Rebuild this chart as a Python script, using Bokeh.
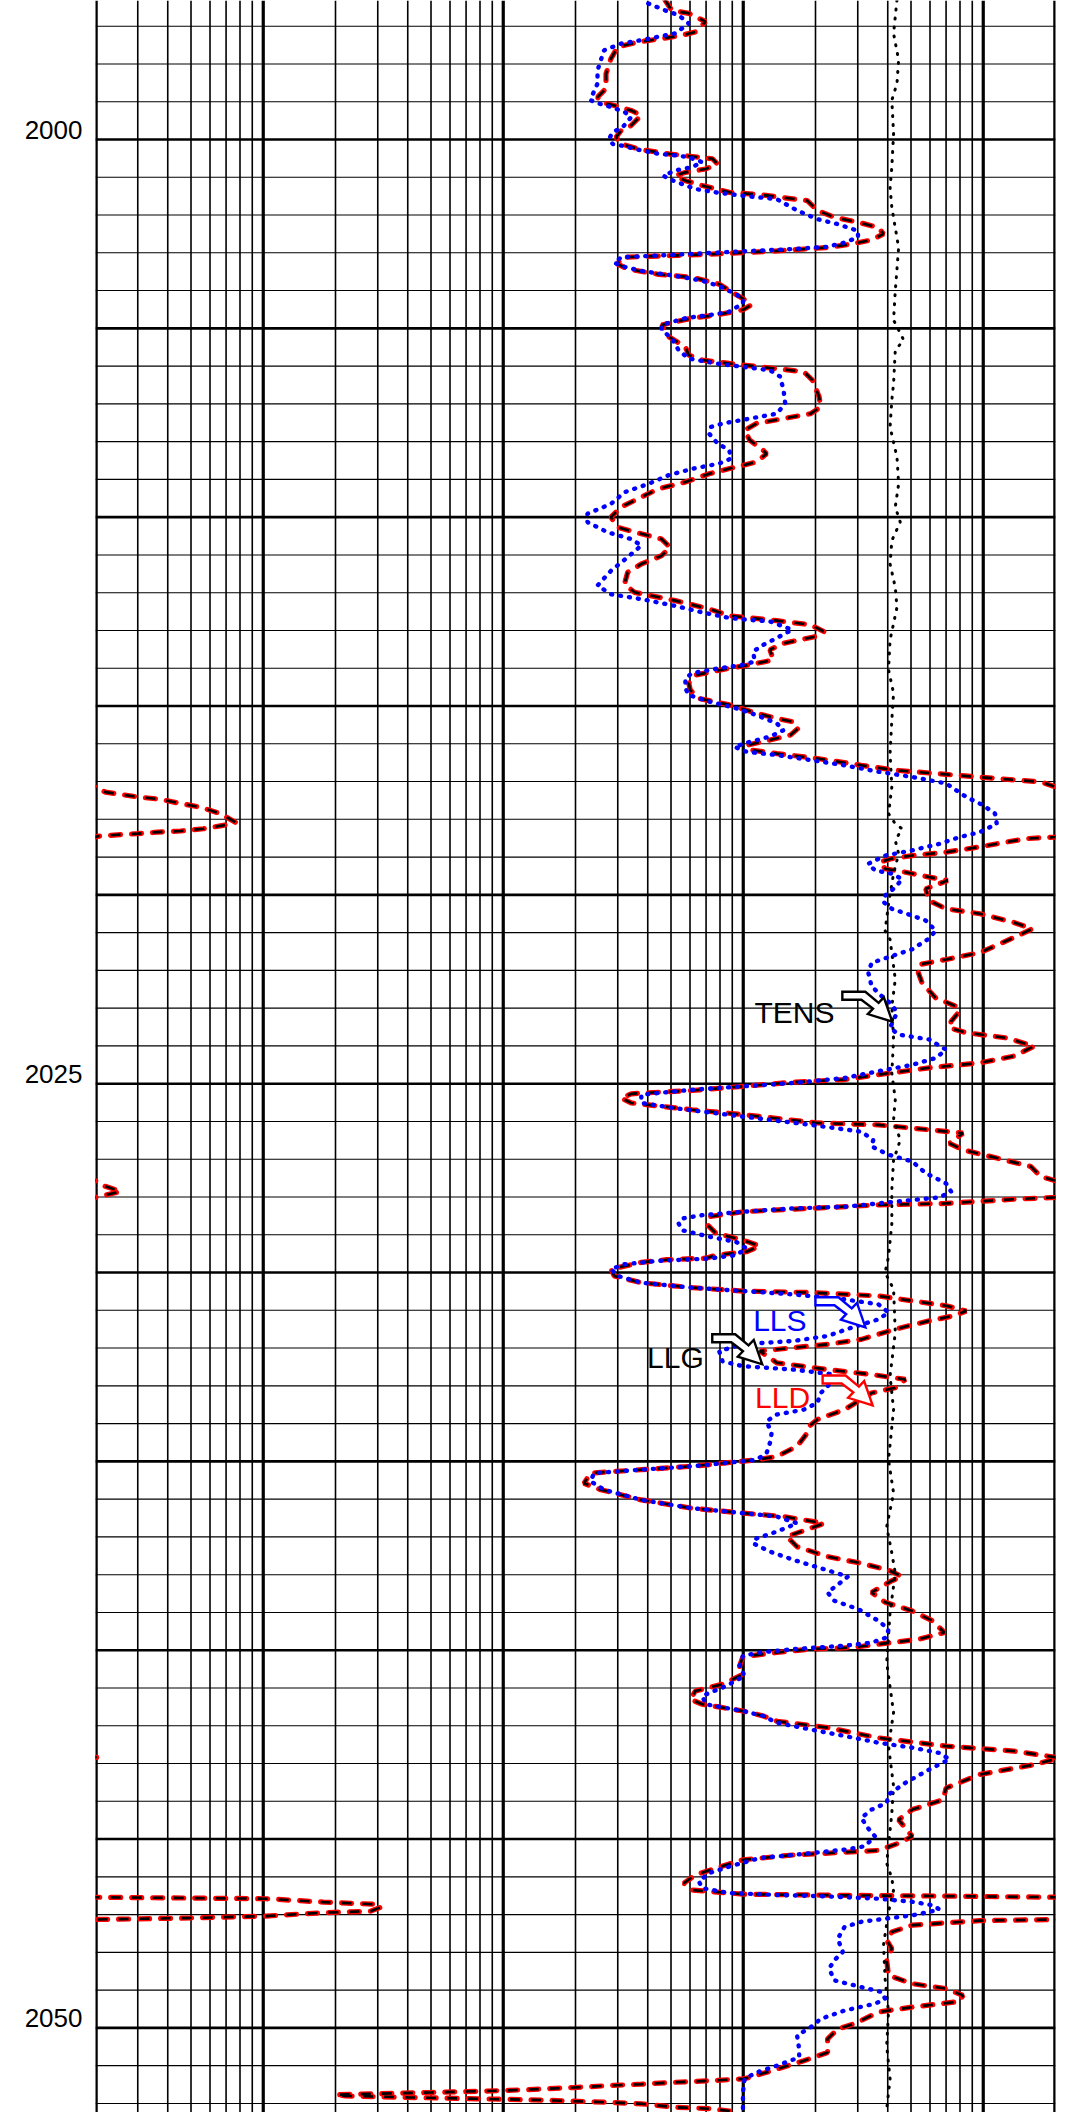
import numpy as np
from bokeh.plotting import figure
from bokeh.models import Range1d, Span, LinearAxis, FixedTicker
from bokeh.core.properties import value
from bokeh.embed import file_html
from bokeh.resources import INLINE

# LLD / LLG (deep laterolog, ohm.m). Values above 2000 are shown on the wrap (backup) scale.
lld_depth = [1996.31, 1996.58, 1996.66, 1996.88, 1997.15, 1997.24, 1997.33, 1997.42, 1997.55, 1997.86,
             1998.26, 1998.65, 1998.88, 1999.01, 1999.10, 1999.23, 1999.36, 1999.63, 1999.76, 1999.94,
             2000.12, 2000.27, 2000.38, 2000.45, 2000.51, 2000.65, 2000.78, 2000.87, 2000.96, 2001.09,
             2001.22, 2001.40, 2001.46, 2001.62, 2001.88, 2002.06, 2002.19, 2002.33, 2002.50, 2002.66,
             2002.77, 2002.86, 2002.95, 2003.04, 2003.12, 2003.30, 2003.43, 2003.57, 2003.65, 2003.83,
             2004.05, 2004.27, 2004.38, 2004.51, 2004.65, 2004.73, 2004.91, 2005.22, 2005.49, 2005.71,
             2005.84, 2005.93, 2006.02, 2006.15, 2006.37, 2006.81, 2007.08, 2007.26, 2007.39, 2007.52,
             2007.70, 2007.96, 2008.23, 2008.32, 2008.54, 2008.67, 2008.85, 2009.07, 2009.25, 2009.47,
             2009.73, 2010.00, 2010.27, 2010.44, 2010.58, 2010.80, 2011.02, 2011.24, 2011.46, 2011.77,
             2011.99, 2012.21, 2012.43, 2012.61, 2012.74, 2012.85, 2013.03, 2013.16, 2013.34, 2013.51,
             2013.78, 2013.91, 2014.00, 2014.18, 2014.40, 2014.58, 2014.80, 2014.97, 2015.19, 2015.33,
             2015.42, 2015.59, 2015.77, 2015.90, 2016.04, 2016.17, 2016.26, 2016.39, 2016.57, 2016.70,
             2016.81, 2016.92, 2017.01, 2017.14, 2017.28, 2017.32, 2017.41, 2017.47, 2017.57, 2017.68,
             2017.85, 2018.08, 2018.16, 2018.25, 2018.31, 2018.34, 2018.38, 2018.41, 2018.45, 2018.47,
             2018.51, 2018.60, 2018.73, 2018.87, 2018.96, 2019.04, 2019.13, 2019.31, 2019.40, 2019.53,
             2019.62, 2019.84, 2020.15, 2020.37, 2020.50, 2020.73, 2020.90, 2021.15, 2021.53, 2021.71,
             2021.84, 2021.97, 2022.33, 2022.73, 2022.95, 2023.08, 2023.35, 2023.52, 2023.65, 2023.79,
             2024.01, 2024.27, 2024.45, 2024.58, 2024.76, 2024.89, 2024.96, 2025.07, 2025.18, 2025.25,
             2025.27, 2025.38, 2025.51, 2025.56, 2025.69, 2025.82, 2026.04, 2026.09, 2026.22, 2026.31,
             2026.58, 2026.75, 2026.97, 2027.19, 2027.46, 2027.57, 2027.70, 2027.85, 2027.95, 2028.01,
             2028.06, 2028.17, 2028.21, 2028.30, 2028.39, 2028.52, 2028.74, 2028.96, 2029.14, 2029.30,
             2029.45, 2029.54, 2029.62, 2029.66, 2029.73, 2029.91, 2030.09, 2030.27, 2030.40, 2030.49,
             2030.53, 2030.62, 2030.75, 2030.88, 2031.02, 2031.15, 2031.28, 2031.50, 2031.77, 2031.90,
             2031.99, 2032.08, 2032.39, 2032.57, 2032.70, 2032.83, 2033.05, 2033.19, 2033.63, 2033.89,
             2034.07, 2034.25, 2034.60, 2034.87, 2034.96, 2035.04, 2035.13, 2035.22, 2035.31, 2035.58,
             2035.75, 2036.02, 2036.24, 2036.37, 2036.46, 2036.64, 2036.77, 2036.99, 2037.26, 2037.52,
             2037.70, 2037.88, 2038.05, 2038.16, 2038.47, 2038.73, 2038.96, 2039.22, 2039.53, 2039.71,
             2039.84, 2039.93, 2039.97, 2040.06, 2040.17, 2040.42, 2040.64, 2040.90, 2041.08, 2041.30,
             2041.43, 2041.61, 2041.74, 2041.88, 2042.05, 2042.32, 2042.54, 2042.67, 2042.85, 2043.03,
             2043.29, 2043.65, 2043.96, 2044.22, 2044.49, 2044.93, 2045.11, 2045.30, 2045.35, 2045.42,
             2045.55, 2045.77, 2045.95, 2046.17, 2046.35, 2046.46, 2046.49, 2046.51, 2046.54, 2046.58,
             2046.67, 2046.73, 2046.80, 2046.91, 2046.95, 2047.04, 2047.09, 2047.13, 2047.16, 2047.28,
             2047.46, 2047.68, 2047.90, 2048.21, 2048.61, 2048.83, 2048.96, 2049.14, 2049.30, 2049.45,
             2049.58, 2049.89, 2050.03, 2050.29, 2050.65, 2050.87, 2051.09, 2051.31, 2051.35, 2051.40,
             2051.44, 2051.49, 2051.53, 2051.58, 2051.62, 2051.66, 2051.71, 2051.77, 2051.80, 2051.84,
             2051.89, 2051.91, 2051.94, 2051.97, 2052.01, 2052.10, 2052.14, 2052.20, 2052.30]
lld_value = [47.2, 50.4, 59.3, 69.7, 63.2, 55.6, 45.7, 36.4, 30.0, 28.1,
             26.8, 26.8, 24.7, 25.5, 29.0, 34.1, 37.6, 34.1, 31.0, 29.5,
             31.0, 37.6, 48.8, 61.2, 74.4, 78.2, 69.7, 57.4, 52.1, 57.4,
             67.5, 87.5, 117.3, 184.8, 203.7, 239.5, 300.7, 365.6, 383.9, 342.6,
             282, 224.6, 138, 72.1, 31.0, 30.0, 33.0, 44.3, 61.2, 79.4,
             90.4, 103, 108.1, 99.7, 76.9, 61.2, 45.7, 48.8, 57.4, 59.3,
             67.5, 87.5, 117.3, 178.8, 194.1, 207, 210.4, 190.9, 147.2, 113.5,
             101.3, 106.4, 121.1, 125.1, 113.5, 93.4, 72.1, 57.4, 44.3, 37.6,
             31.0, 28.1, 30.0, 37.6, 45.7, 49.6, 45.7, 37.6, 33.0, 32.0,
             35.2, 52.1, 72.1, 87.5, 138, 190.9, 217, 200, 147.2, 129.2,
             133.5, 106.4, 87.5, 63.2, 59.3, 60.2, 65.3, 87.5, 113.5, 138,
             162.3, 169.4, 157.2, 129.2, 103, 108.9, 138, 203.7, 310.5, 430,
             700, 1138, 1738, 2000, 2200, 2420, 3020, 3730, 4430, 5480,
             6640, 7660, 6810, 5630, 4520, 3620, 2980, 2470, 2040, 2000,
             1525, 1256, 968, 700, 506, 416, 371, 390, 474, 595,
             711, 576, 595, 700, 968, 1340, 1600, 1320, 968, 700,
             548, 530, 556, 634, 770, 797, 735, 723, 850, 1256,
             1628, 1340, 968, 595, 365.6, 264, 162, 100, 61.2, 37.6,
             34.1, 31, 34.1, 40.2, 61.2, 100, 203.7, 365.6, 595, 823,
             723, 823, 1138, 1575, 1738, 2000, 2150, 2550, 2200, 2000,
             1340, 700, 365.6, 190.9, 100, 72.1, 71, 76.9, 99.7, 117.3,
             103, 76.9, 70, 48, 37.6, 28.1, 29, 37.6, 61.2, 99.7,
             190.9, 365.6, 506, 700, 850, 747, 595, 430, 310.5, 224.6,
             162.3, 117.3, 138, 224.6, 342.6, 474, 430, 342.6, 264, 203.7,
             188, 184.8, 167.6, 138, 113.5, 84.7, 61.2, 37.6, 23.1, 21.7,
             25.5, 37.6, 61.2, 99.7, 147.2, 217, 190.9, 152, 167.6, 224.6,
             310.5, 403, 459, 416, 342.6, 390, 506, 614, 688, 540,
             365.6, 282, 190.9, 138, 99.7, 96.5, 99.7, 82, 63.2, 60.2,
             67.5, 99.7, 121, 138, 224.6, 365.6, 700, 1340, 2080, 1628,
             968, 700, 680, 506, 444, 506, 444, 365.6, 264, 162.3,
             99.7, 76.9, 63.2, 56.5, 61.2, 99.7, 264, 700, 2000, 10300,
             17800, 29900, 31000, 28000, 17800, 10200, 5000, 2000, 968, 506,
             416, 396, 416, 396, 403, 506, 700, 823, 797, 506,
             365.6, 291, 247.6, 224.6, 224.6, 178.8, 138, 106.4, 99.7, 72.1,
             52.1, 37.6, 27.2, 19.7, 14.3, 10, 5, 2.0, 2.2, 4,
             10, 14.3, 19.7, 27.2, 37.6, 52.1, 72.1, 87.5, 95]

# LLS (shallow laterolog, ohm.m)
lls_depth = [1996.40, 1996.58, 1996.71, 1996.93, 1997.19, 1997.28, 1997.37, 1997.46, 1997.64, 1997.90,
             1998.17, 1998.52, 1998.83, 1998.96, 1999.05, 1999.14, 1999.27, 1999.41, 1999.67, 1999.81,
             1999.98, 2000.12, 2000.16, 2000.29, 2000.38, 2000.42, 2000.47, 2000.60, 2000.73, 2000.82,
             2000.96, 2001.04, 2001.18, 2001.31, 2001.40, 2001.49, 2001.58, 2001.88, 2002.11, 2002.24,
             2002.42, 2002.59, 2002.73, 2002.84, 2002.90, 2002.96, 2003.05, 2003.12, 2003.26, 2003.35,
             2003.48, 2003.61, 2003.74, 2003.88, 2004.10, 2004.23, 2004.34, 2004.56, 2004.65, 2004.73,
             2004.91, 2005.04, 2005.27, 2005.58, 2005.80, 2005.93, 2006.02, 2006.11, 2006.28, 2006.64,
             2006.99, 2007.26, 2007.39, 2007.52, 2007.61, 2007.79, 2008.05, 2008.23, 2008.45, 2008.58,
             2008.72, 2008.89, 2009.12, 2009.34, 2009.65, 2009.91, 2010.13, 2010.40, 2010.58, 2010.75,
             2011.06, 2011.42, 2011.81, 2012.04, 2012.17, 2012.35, 2012.52, 2012.65, 2012.70, 2012.76,
             2012.98, 2013.20, 2013.38, 2013.56, 2013.82, 2013.91, 2014.00, 2014.13, 2014.27, 2014.53,
             2014.71, 2014.88, 2015.06, 2015.24, 2015.46, 2015.64, 2015.81, 2015.95, 2016.08, 2016.21,
             2016.30, 2016.43, 2016.57, 2016.74, 2016.88, 2017.05, 2017.41, 2017.63, 2017.85, 2018.12,
             2018.34, 2018.47, 2018.65, 2018.82, 2018.96, 2019.18, 2019.35, 2019.44, 2019.58, 2019.80,
             2020.02, 2020.19, 2020.37, 2020.55, 2020.68, 2020.95, 2021.17, 2021.44, 2021.62, 2021.80,
             2022.06, 2022.42, 2022.68, 2022.90, 2023.12, 2023.52, 2023.70, 2023.83, 2024.10, 2024.32,
             2024.50, 2024.67, 2024.85, 2024.98, 2025.07, 2025.16, 2025.29, 2025.51, 2025.65, 2025.87,
             2026.09, 2026.27, 2026.49, 2026.66, 2026.88, 2027.06, 2027.37, 2027.64, 2027.86, 2028.01,
             2028.08, 2028.17, 2028.26, 2028.30, 2028.39, 2028.48, 2028.57, 2028.70, 2028.88, 2029.05,
             2029.19, 2029.36, 2029.54, 2029.63, 2029.69, 2029.78, 2029.91, 2030.09, 2030.27, 2030.40,
             2030.49, 2030.58, 2030.71, 2030.84, 2031.06, 2031.24, 2031.46, 2031.68, 2031.81, 2031.90,
             2032.08, 2032.35, 2032.48, 2032.57, 2032.70, 2032.92, 2033.19, 2033.45, 2033.63, 2033.76,
             2033.94, 2034.25, 2034.51, 2034.78, 2034.96, 2035.04, 2035.13, 2035.22, 2035.31, 2035.53,
             2035.75, 2036.02, 2036.24, 2036.37, 2036.46, 2036.64, 2036.86, 2037.04, 2037.17, 2037.39,
             2037.61, 2037.83, 2038.05, 2038.16, 2038.47, 2038.69, 2038.91, 2039.22, 2039.44, 2039.66,
             2039.80, 2039.88, 2039.97, 2040.06, 2040.15, 2040.42, 2040.68, 2040.95, 2041.21, 2041.43,
             2041.61, 2041.74, 2041.92, 2042.10, 2042.27, 2042.45, 2042.58, 2042.72, 2042.89, 2043.16,
             2043.51, 2043.82, 2044.04, 2044.22, 2044.44, 2044.71, 2044.93, 2045.19, 2045.28, 2045.42,
             2045.50, 2045.73, 2045.90, 2046.12, 2046.30, 2046.43, 2046.48, 2046.52, 2046.58, 2046.66,
             2046.75, 2046.86, 2046.93, 2047.02, 2047.11, 2047.19, 2047.33, 2047.64, 2047.99, 2048.21,
             2048.43, 2048.74, 2048.92, 2049.05, 2049.23, 2049.36, 2049.54, 2049.76, 2049.98, 2050.20,
             2050.56, 2050.78, 2051.00, 2051.18, 2051.35, 2051.71, 2052.30]
lls_value = [40.2, 47.2, 53.8, 59.3, 52.1, 44.3, 37.6, 31.0, 26.3, 25.5,
             24.7, 24.7, 23.5, 23.1, 25.1, 28.1, 32.0, 34.1, 31.5, 28.6,
             27.6, 28.6, 31.0, 37.6, 44.3, 52.1, 59.3, 67.5, 61.2, 52.1,
             46.5, 48.8, 55.6, 63.2, 76.9, 99.7, 138, 167.6, 203.7, 247.6,
             300.7, 300.7, 264, 224.6, 162.3, 99.7, 52.1, 31.0, 29, 31,
             37.6, 52.1, 67.5, 79.4, 93.4, 99.7, 99.7, 87.5, 72.1, 57.4,
             45.7, 45.7, 50.4, 53.8, 59.3, 76.9, 99.7, 129.2, 142.5, 147.2,
             149.6, 138, 106.4, 82, 73.3, 72.1, 78.2, 87.5, 88.9, 79.4,
             61.2, 48.8, 40.2, 32.0, 28.1, 22.4, 22.4, 27.2, 34.1, 37.6,
             33.0, 28.1, 24.7, 28.1, 37.6, 52.1, 67.5, 84.7, 96.5, 129.2,
             159.6, 138, 121.1, 109.9, 111.7, 99.7, 79.4, 61.2, 57.4, 57.4,
             59.3, 72.1, 93.4, 113.5, 138, 147.2, 129.2, 106.4, 91.9, 103,
             138, 190.9, 264, 365.6, 506, 700, 850, 1000, 1120, 1138,
             968, 797, 656, 506, 390, 331, 354, 416, 459, 430,
             390, 384, 416, 506, 576, 634, 590, 506, 416, 342.6,
             332, 342.6, 377, 416, 437, 409, 444, 595, 700, 634,
             506, 365.6, 264, 162.3, 99.7, 61.2, 37.6, 37.6, 52.1, 99.7,
             190.9, 310.5, 348, 342.6, 403, 506, 576, 700, 735, 656,
             506, 365.6, 264, 162.3, 99.7, 67.5, 55.6, 53.8, 55.6, 72.1,
             93.4, 103, 93.4, 72.1, 44.3, 32, 28.1, 30, 37.6, 61.2,
             99.7, 162.3, 264, 365.6, 403, 365.6, 282, 224.6, 162.3, 99.7,
             79.4, 82, 99.7, 162.3, 239.5, 232, 210.4, 203.7, 178.8, 138,
             125.1, 131.3, 129.2, 125.1, 113.5, 84.7, 61.2, 37.6, 23.9, 23.1,
             26.3, 37.6, 61.2, 99.7, 138, 167.6, 138, 113.5, 109.9, 129.2,
             162.3, 210.4, 273, 260, 224.6, 239.5, 300.7, 365.6, 403, 396,
             342.6, 264, 162.3, 117.3, 99.7, 96.5, 101.3, 84.7, 67.5, 69.7,
             99.7, 121.1, 138, 190.9, 264, 365.6, 506, 656, 723, 595,
             474, 403, 396, 342.6, 310.5, 331, 354, 320.8, 264, 162.3,
             117.3, 87.5, 72.1, 65.3, 67.5, 87.5, 138, 224.6, 365.6, 506,
             614, 656, 595, 506, 390, 310.5, 264, 247.6, 260, 239.5,
             228, 239.5, 310.5, 377, 390, 354, 264, 210.4, 190.9, 167.6,
             171, 171, 138, 113.5, 101.3, 99.7, 99.7]

# TENS (cable tension, drawn on the same log grid)
tens_depth = [1996.31, 1997.19, 1997.90, 1998.52, 1998.96, 1999.85, 2000.73, 2001.27, 2001.80, 2002.86,
              2004.01, 2004.78, 2005.31, 2005.58, 2006.46, 2006.90, 2007.61, 2008.41, 2009.12, 2009.73,
              2010.13, 2010.62, 2011.24, 2011.86, 2012.39, 2013.25, 2014.04, 2014.66, 2015.37, 2016.26,
              2017.14, 2017.85, 2018.12, 2018.25, 2018.56, 2018.91, 2019.44, 2020.24, 2020.95, 2021.18,
              2022.24, 2022.95, 2023.83, 2024.72, 2025.42, 2025.96, 2026.49, 2027.02, 2027.81, 2028.70,
              2029.58, 2030.00, 2030.44, 2031.59, 2032.74, 2033.63, 2034.96, 2035.84, 2036.73, 2037.43,
              2037.96, 2039.00, 2040.33, 2041.65, 2042.54, 2043.60, 2044.31, 2045.64, 2046.04, 2046.35,
              2046.93, 2047.81, 2048.70, 2049.58, 2050.47, 2051.35, 2052.15]
tens_value = [437, 423, 444, 437, 416, 423, 416, 409, 416, 444,
              430, 423, 466, 430, 423, 416, 409, 437, 444, 430,
              451, 416, 409, 430, 437, 409, 403, 423, 416, 409,
              416, 403, 430, 459, 430, 444, 423, 403, 390, 409,
              430, 416, 423, 416, 430, 423, 451, 423, 416, 416,
              403, 390, 423, 430, 409, 423, 403, 423, 396, 416,
              430, 409, 396, 423, 403, 423, 416, 396, 416, 423,
              403, 384, 390, 403, 396, 409, 396]

depth_labels = [2000, 2025, 2050]
curve_names = ["TENS", "LLS", "LLG", "LLD"]
curve_colors = ["black", "#0000ff", "black", "#ff0000"]
# label anchor (value, depth, alignment) and arrow tip (value, depth)
label_pos = [(240, 2023.11, "right"), (110, 2031.26, "left"), (68.5, 2032.25, "right"), (112, 2033.31, "left")]
arrow_tip = [(418, 2023.36), (323, 2031.45), (120, 2032.43), (346, 2033.52)]

WRAP = 10000.0
X_MIN, X_MAX = 0.2, 2000.0
Y_TOP, Y_BOTTOM = 1996.32, 2052.24

# ---------------- figure ----------------
PX_DEC = 240.0     # pixels per decade
PX_M = 37.77       # pixels per metre
p = figure(width=1072, height=2112, x_axis_type="log",
           x_range=Range1d(X_MIN, X_MAX), y_range=Range1d(Y_BOTTOM, Y_TOP),
           x_axis_location=None, y_axis_location=None,
           min_border_left=95, min_border_right=17, min_border_top=0, min_border_bottom=0,
           output_backend="svg", toolbar_location=None)
p.grid.visible = False
p.outline_line_color = None
p.background_fill_color = "white"
p.border_fill_color = "white"

# depth axis: labels sit with their baseline on the depth line (range shifted by half a label height)
LABEL_SHIFT = 0.25
p.extra_y_ranges = {"labels": Range1d(Y_BOTTOM + LABEL_SHIFT, Y_TOP + LABEL_SHIFT)}
yax = LinearAxis(y_range_name="labels", ticker=FixedTicker(ticks=depth_labels),
                 axis_line_color=None, major_tick_line_color=None, minor_tick_line_color=None,
                 major_tick_out=0, major_tick_in=0, major_label_standoff=13,
                 major_label_text_font="Liberation Sans", major_label_text_font_size="26px",
                 major_label_text_color="black")
p.add_layout(yax, "left")

# grid: log verticals
for dec in [0.1, 1, 10, 100, 1000]:
    for m in range(1, 10):
        v = dec * m
        if v < X_MIN - 1e-9 or v > X_MAX + 1e-9:
            continue
        if abs(v - X_MIN) < 1e-9 or abs(v - X_MAX) < 1e-9:
            w = 4.5
        elif m == 1:
            w = 3.2
        else:
            w = 1.6
        p.add_layout(Span(location=v, dimension="height", line_color="black",
                          line_width=w, level="underlay"))
# grid: depth lines
for d in range(1997, 2053):
    w = 2.6 if d % 5 == 0 else 1.1
    p.add_layout(Span(location=d, dimension="width", line_color="black",
                      line_width=w, level="underlay"))

lld_v = np.array(lld_value)
lld_d = np.array(lld_depth)
for xs in (lld_v, lld_v / WRAP):
    p.line(xs, lld_d, line_color="#ff0000", line_width=5.2, line_dash="10 11", line_cap="round")
    p.line(xs, lld_d, line_color="black", line_width=2.6, line_dash="10 11")

p.line(tens_value, tens_depth, line_color="black", line_width=3.0, line_dash="1 8", line_cap="round")
p.line(lls_value, lls_depth, line_color="#0000ff", line_width=4.4, line_dash="1 8", line_cap="round")

# curve name labels with outlined bent arrows
arrow_dx = np.array([-50, -27, -13.7, -8.5, 0, -24.5, -19.3, -31, -50])
arrow_dy = np.array([-30, -30, -18.9, -24.4, 0, -7.7, -13.1, -22, -22])
for name, col, (lv, ld, al), (tv, td) in zip(curve_names, curve_colors, label_pos, arrow_tip):
    p.text(x=[lv], y=[ld], text=[name], text_color=col, text_align=al,
           text_baseline="alphabetic", text_font=value("Liberation Sans"),
           text_font_size="30px")
    ax = tv * 10 ** (arrow_dx / PX_DEC)
    ay = td + arrow_dy / PX_M
    p.patch(ax, ay, fill_color="white", line_color=col, line_width=2.4, line_join="miter")

open("out.html", "w").write(file_html(p, INLINE))
